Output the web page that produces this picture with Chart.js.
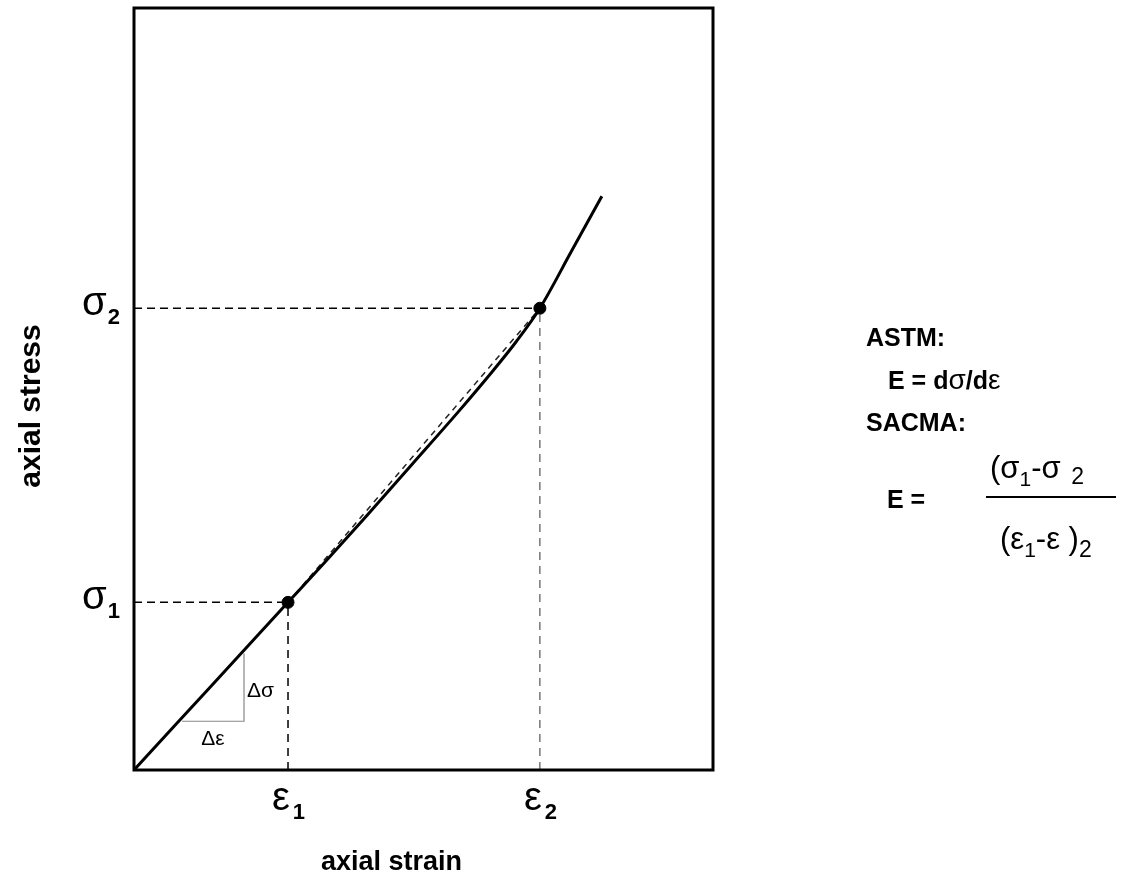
<!DOCTYPE html>
<html>
<head>
<meta charset="utf-8">
<script src="https://cdn.jsdelivr.net/npm/chart.js@4.4.0/dist/chart.umd.min.js"></script>
<style>
  html, body { margin: 0; padding: 0; background: #fff; }
  canvas { display: block; }
</style>
</head>
<body>
<canvas id="stressChart" width="1124" height="896"></canvas>
<script>
// Kurve: Dehnung (x) und Spannung (y), willkürliche Einheiten 0..100
const strain = [0, 13.3, 26.6, 33, 40, 48, 56, 62, 66, 70.1, 75.5, 80.8];
const stress = [0, 11.0, 22.0, 27.3, 33.2, 40.1, 47.0, 52.4, 56.2, 60.6, 68.0, 75.3];

// Messpunkte 1 und 2
const strainTicks = [26.6, 70.1];
const stressTicks = [22.0, 60.6];
const tickSubs = ['1', '2'];

// Steigungsdreieck
const triStrain = [8.3, 19.0, 19.0];
const triStress = [6.4, 6.4, 15.3];

const pts = (xs, ys) => xs.map((x, i) => ({ x: x, y: ys[i] }));

const curve = pts(strain, stress);
const marks = pts(strainTicks, stressTicks);
const chord = marks;
const hLine1 = [{ x: 0, y: stressTicks[0] }, { x: strainTicks[0], y: stressTicks[0] }];
const hLine2 = [{ x: 0, y: stressTicks[1] }, { x: strainTicks[1], y: stressTicks[1] }];
const vLine1 = [{ x: strainTicks[0], y: 0 }, { x: strainTicks[0], y: stressTicks[0] }];
const vLine2 = [{ x: strainTicks[1], y: 0 }, { x: strainTicks[1], y: stressTicks[1] }];
const triangle = pts(triStrain, triStress);

function dashed(data, color, width, dash) {
    return { data: data, showLine: true, borderColor: color, borderWidth: width,
             borderDash: dash, pointRadius: 0, fill: false };
}

const FF = '"Liberation Sans", Arial, sans-serif';

// Text aus Stücken [text, font, dy] hintereinander schreiben
function run(c, x, y, parts) {
    parts.forEach(p => {
        c.font = p[1] + ' ' + FF;
        c.fillText(p[0], x, y + (p[2] || 0));
        x += c.measureText(p[0]).width + (p[3] || 0);
    });
}

// Beschriftungen, Rahmen und Formeln
const extras = {
    id: 'extras',
    afterDraw(chart) {
        const c = chart.ctx;
        const a = chart.chartArea;
        const xs = chart.scales.x, ys = chart.scales.y;
        c.save();
        c.strokeStyle = '#000';
        c.lineWidth = 3;
        c.strokeRect(a.left, a.top, a.right - a.left, a.bottom - a.top);

        c.fillStyle = '#000';
        c.textBaseline = 'alphabetic';
        c.textAlign = 'left';
        // y-Achse: sigma 1, sigma 2
        stressTicks.forEach((v, i) => {
            const py = ys.getPixelForValue(v);
            run(c, 82, py + 7, [['σ', '40px', 0, 1], [tickSubs[i], 'bold 22px', 9]]);
        });
        // x-Achse: epsilon 1, epsilon 2
        strainTicks.forEach((v, i) => {
            const px = xs.getPixelForValue(v);
            run(c, px - 16, 810, [['ε', '40px', 0, 3], [tickSubs[i], 'bold 22px', 9]]);
        });

        // Achsentitel
        c.textAlign = 'center';
        c.font = 'bold 27px ' + FF;
        c.fillText('axial strain', (a.left + a.right) / 2 - 32, 870);
        c.save();
        c.translate(40, 406);
        c.rotate(-Math.PI / 2);
        c.font = 'bold 30px ' + FF;
        c.fillText('axial stress', 0, 0);
        c.restore();

        // Steigungsdreieck-Beschriftung
        c.font = '21px ' + FF;
        c.fillText('Δε', xs.getPixelForValue((triStrain[0] + triStrain[1]) / 2), 745);
        c.textAlign = 'left';
        c.fillText('Δσ', xs.getPixelForValue(triStrain[1]) + 3, 697);

        // Formeln rechts
        c.font = 'bold 25px ' + FF;
        c.fillText('ASTM:', 866, 346);
        run(c, 888, 389, [['E = d', 'bold 25px'], ['σ', '28px'], ['/d', 'bold 25px'], ['ε', '28px']]);
        c.font = 'bold 25px ' + FF;
        c.fillText('SACMA:', 866, 431);
        c.fillText('E =', 887, 508);

        run(c, 990, 478, [['(σ', '31px'], ['1', '21px', 8], ['-σ ', '31px', 0, 2], ['2', '23px', 6]]);
        c.lineWidth = 2;
        c.beginPath();
        c.moveTo(986, 497);
        c.lineTo(1116, 497);
        c.stroke();
        run(c, 1000, 549, [['(ε', '31px'], ['1', '21px', 8], ['-ε )', '31px'], ['2', '23px', 8]]);
        c.restore();
    }
};

const ctx = document.getElementById('stressChart').getContext('2d');
new Chart(ctx, {
    type: 'scatter',
    data: {
        datasets: [
            { data: curve, showLine: true, borderColor: '#000', borderWidth: 3,
              pointRadius: 0, cubicInterpolationMode: 'monotone', fill: false },
            dashed(chord, '#222', 1.5, [6, 5]),
            dashed(hLine1, '#000', 1.5, [8, 5]),
            dashed(hLine2, '#000', 1.5, [8, 5]),
            dashed(vLine1, '#000', 1.5, [8, 6]),
            dashed(vLine2, '#555', 1.2, [8, 6]),
            { data: triangle, showLine: true, borderColor: '#888', borderWidth: 1.2,
              pointRadius: 0, fill: false },
            { data: marks, showLine: false, pointRadius: 6, pointBackgroundColor: '#000',
              pointBorderColor: '#000' }
        ]
    },
    options: {
        responsive: false,
        animation: false,
        layout: { padding: { left: 134, right: 411, top: 8, bottom: 126 } },
        plugins: { legend: { display: false }, tooltip: { enabled: false } },
        scales: {
            x: { type: 'linear', min: 0, max: 100, display: false },
            y: { type: 'linear', min: 0, max: 100, display: false }
        }
    },
    plugins: [extras]
});
</script>
</body>
</html>
